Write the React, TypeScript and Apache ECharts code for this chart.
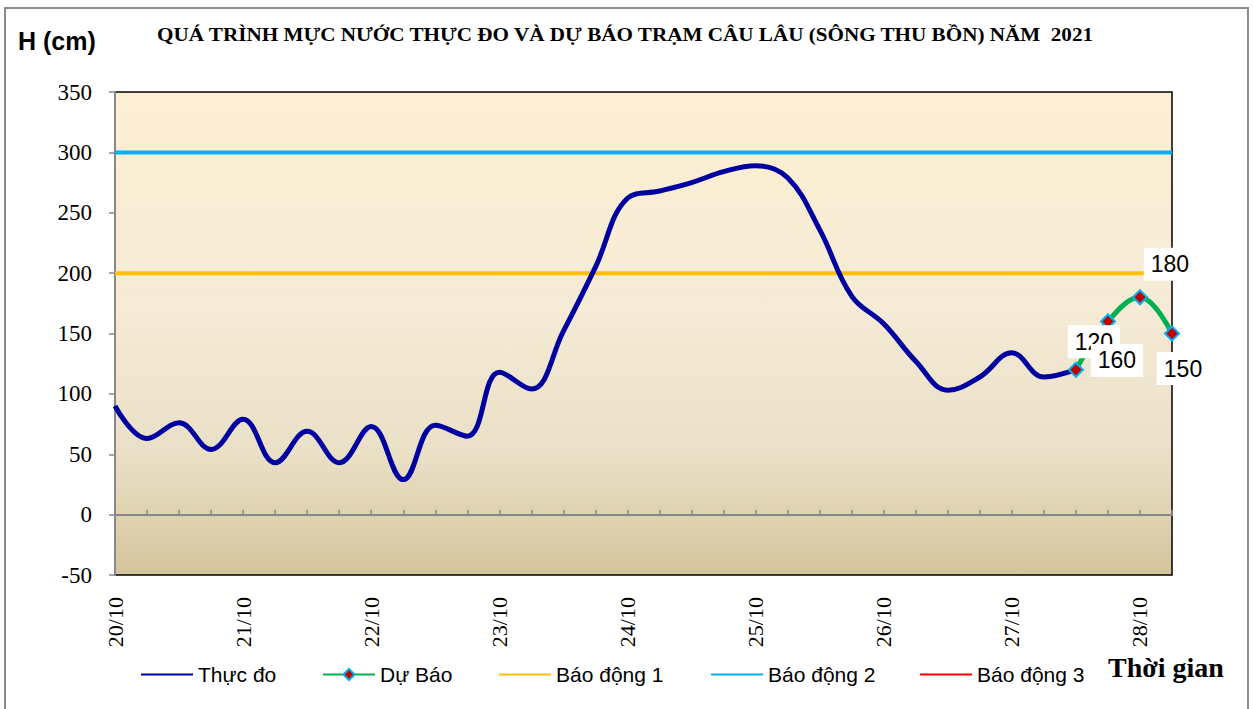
import React, { useEffect, useRef } from "react";
import * as echarts from "echarts";

const times = [
  "20/10 00h", "20/10 06h", "20/10 12h", "20/10 18h",
  "21/10 00h", "21/10 06h", "21/10 12h", "21/10 18h",
  "22/10 00h", "22/10 06h", "22/10 12h", "22/10 18h",
  "23/10 00h", "23/10 06h", "23/10 12h", "23/10 18h",
  "24/10 00h", "24/10 06h", "24/10 12h", "24/10 18h",
  "25/10 00h", "25/10 06h", "25/10 12h", "25/10 18h",
  "26/10 00h", "26/10 06h", "26/10 12h", "26/10 18h",
  "27/10 00h", "27/10 06h", "27/10 12h", "27/10 18h",
  "28/10 00h", "28/10 06h",
];

const observed: (number | null)[] = [
  90, 63, 76, 54, 79, 43, 69, 43, 73, 29, 74, 65,
  118, 104, 152, 205, 262, 268, 275, 284, 289, 279, 236, 181,
  158, 127, 103, 114, 134, 114, 120, null, null, null,
];

const forecast: (number | null)[] = [
  null, null, null, null, null, null, null, null, null, null, null, null,
  null, null, null, null, null, null, null, null, null, null, null, null,
  null, null, null, null, null, null, 120, 160, 180, 150,
];

// label offsets for forecast value labels [dx, dy]
const forecastLabelOffsets: number[][] = [
  [18, -28], [9, 39], [30, -33], [11, 35],
];

const alarmNames = ["Báo động 1", "Báo động 2", "Báo động 3"];
const alarmLevels = [200, 300, 400];
const alarmColors = ["#FFC000", "#00B0F0", "#FF0000"];

const legendNames = ["Thực đo", "Dự Báo", ...alarmNames];
const legendLefts = [140, 322, 498, 710, 919];

const yTicks = { min: -50, max: 350, interval: 50 };

const TITLE =
  "QUÁ TRÌNH MỰC NƯỚC THỰC ĐO VÀ DỰ BÁO TRẠM CÂU LÂU (SÔNG THU BỒN) NĂM  2021";

export default function App() {
  const ref = useRef<HTMLDivElement>(null);
  useEffect(() => {
    if (!ref.current) return;
    const chart = echarts.init(ref.current, null, { renderer: "svg" });
    let fIdx = 0;
    const forecastData = forecast.map((v) => {
      if (v === null) return null;
      const off = forecastLabelOffsets[fIdx++];
      return { value: v, label: { offset: off } };
    });
    const serif = "Liberation Serif";
    const sans = "Liberation Sans";
    const hidden = { color: "transparent", borderColor: "transparent", borderWidth: 0, opacity: 0 };
    chart.setOption({
      animation: false,
      backgroundColor: "#fff",
      textStyle: { fontFamily: serif },
      graphic: [
        {
          type: "rect",
          shape: { x: 5, y: 8, width: 1243, height: 712 },
          style: { fill: "none", stroke: "#8c8c8c", lineWidth: 2 },
          silent: true,
        },
        {
          type: "text",
          x: 157,
          y: 35,
          scaleX: 1.175,
          style: {
            text: TITLE,
            font: `bold 18px ${serif}`,
            fill: "#000",
            verticalAlign: "middle",
          },
        },
        {
          type: "text",
          x: 18,
          y: 41,
          style: {
            text: "H (cm)",
            font: `bold 25px ${sans}`,
            fill: "#000",
            verticalAlign: "middle",
          },
        },
        {
          type: "text",
          x: 1108,
          y: 667,
          style: {
            text: "Thời gian",
            font: `bold 28px ${serif}`,
            fill: "#000",
            verticalAlign: "middle",
          },
        },
      ],
      legend: legendNames.map((name, i) => ({
        left: legendLefts[i],
        top: 664,
        padding: 0,
        itemWidth: 52,
        itemHeight: 14,
        textStyle: { fontFamily: sans, fontSize: 21, color: "#000" },
        lineStyle: { width: 2 },
        data: [i === 1 ? { name } : { name, itemStyle: hidden }],
      })),
      grid: {
        left: 115,
        top: 92,
        right: 81,
        bottom: 134,
        show: true,
        borderColor: "#000",
        borderWidth: 1.5,
        backgroundColor: new echarts.graphic.LinearGradient(0, 0, 0, 1, [
          { offset: 0, color: "#FDEFD2" },
          { offset: 0.45, color: "#F5EBD6" },
          { offset: 0.75, color: "#EAE0C6" },
          { offset: 1, color: "#D4C49D" },
        ]),
      },
      xAxis: {
        type: "category",
        data: times,
        boundaryGap: false,
        axisLine: { lineStyle: { color: "#888", width: 2 } },
        axisTick: { inside: true, length: 5, interval: 0, lineStyle: { color: "#888", width: 1.5 } },
        axisLabel: {
          interval: 3,
          rotate: 90,
          margin: 22,
          fontFamily: serif,
          fontSize: 22,
          color: "#000",
          formatter: (v: string) => v.split(" ")[0],
        },
        splitLine: { show: false },
      },
      yAxis: {
        type: "value",
        min: yTicks.min,
        max: yTicks.max,
        interval: yTicks.interval,
        axisLine: { show: true, lineStyle: { color: "#888", width: 2 } },
        axisTick: { show: true, length: 6, lineStyle: { color: "#888", width: 1.5 } },
        axisLabel: { margin: 23, fontFamily: serif, fontSize: 23, color: "#000" },
        splitLine: { show: false },
      },
      series: [
        {
          name: "Thực đo",
          type: "line",
          data: observed,
          smooth: 0.4,
          symbol: "none",
          z: 3,
          lineStyle: { color: "#0000A0", width: 5 },
          itemStyle: { color: "#0000A0" },
        },
        {
          name: "Dự Báo",
          type: "line",
          data: forecastData,
          smooth: 0.4,
          symbol: "diamond",
          symbolSize: 14,
          z: 4,
          lineStyle: { color: "#00B050", width: 5 },
          itemStyle: { color: "#C00000", borderColor: "#00B0F0", borderWidth: 2 },
          label: {
            show: true,
            position: "inside",
            color: "#000",
            fontFamily: sans,
            fontSize: 23,
            backgroundColor: "#fff",
            padding: [5, 7],
          },
        },
        ...alarmNames.map((name, i) => ({
          name,
          type: "line",
          data: [
            [times[0], alarmLevels[i]],
            [times[times.length - 1], alarmLevels[i]],
          ],
          symbol: "none",
          z: 2,
          lineStyle: { color: alarmColors[i], width: 4 },
          itemStyle: { color: alarmColors[i] },
        })),
      ],
    });
    return () => chart.dispose();
  }, []);
  return (
    <div
      ref={ref}
      style={{ position: "fixed", left: 0, top: 0, width: 1253, height: 709 }}
    />
  );
}
